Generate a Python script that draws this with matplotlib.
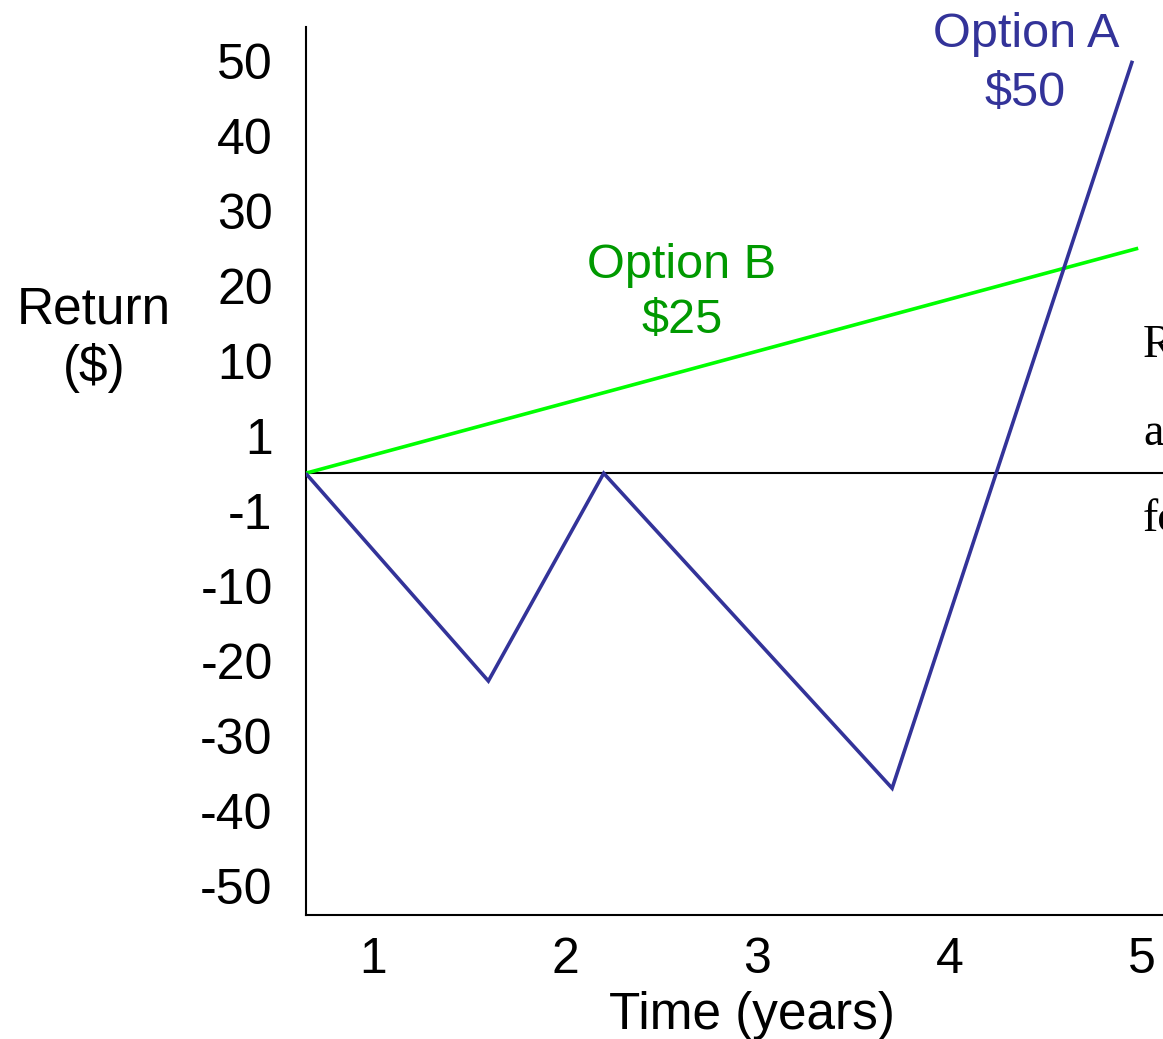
import numpy as np
import matplotlib
matplotlib.use("Agg")
import matplotlib.pyplot as plt

plt.rcParams['font.family'] = ['Liberation Sans', 'DejaVu Sans']

# ---- data ----
years = [1, 2, 3, 4, 5]
year_labels = ["1", "2", "3", "4", "5"]

return_ticks = [50, 40, 30, 20, 10, 1, -1, -10, -20, -30, -40, -50]
return_tick_labels = ["50", "40", "30", "20", "10", "1", "-1",
                      "-10", "-20", "-30", "-40", "-50"]

option_a_time = [0.65, 1.60, 2.20, 3.70, 4.95]
option_a_return = [0, -22.7, 0, -37, 50]

option_b_time = [0.65, 4.98]
option_b_return = [0, 25]

# ---- figure geometry (pixels) ----
W, H = 1163, 1039
DPI = 100


def fx(x):
    return x / W


def fy(y):
    return 1 - y / H


# Piecewise axis: +-1 sits half a step from zero, then 1..10 and
# each further 10 take one step each.
def fwd(v):
    v = np.asarray(v, dtype=float)
    a = np.abs(v)
    p = np.where(a <= 1, 0.5 * a,
                 np.where(a <= 10, 0.5 + (a - 1) / 9, 1.5 + (a - 10) / 10))
    return np.sign(v) * p


def inv(p):
    p = np.asarray(p, dtype=float)
    a = np.abs(p)
    v = np.where(a <= 0.5, 2 * a,
                 np.where(a <= 1.5, 1 + (a - 0.5) * 9, 10 + (a - 1.5) * 10))
    return np.sign(p) * v


fig = plt.figure(figsize=(W / DPI, H / DPI), dpi=DPI)
ax = fig.add_axes([fx(306), fy(915), (W - 306) / W, (915 - 27) / H])

ax.set_yscale('function', functions=(fwd, inv))
ax.set_ylim(-53.9, 54.5)
ax.set_xlim(0.6515, 5.109)

blue = "#333399"
green_line = "#00ff00"
green_text = "#009900"

ax.axhline(0, color="black", lw=1.5, zorder=2)
ax.plot(option_b_time, option_b_return, color=green_line, lw=2.6,
        solid_capstyle="butt", zorder=3)
ax.plot(option_a_time, option_a_return, color=blue, lw=2.6,
        solid_joinstyle="miter", solid_capstyle="butt", zorder=4)

for side in ("top", "right"):
    ax.spines[side].set_visible(False)
for side in ("left", "bottom"):
    ax.spines[side].set_linewidth(1.5)
    ax.spines[side].set_color("black")

ax.set_yticks(return_ticks)
ax.set_yticklabels(return_tick_labels)
ax.set_xticks(years)
ax.set_xticklabels(year_labels)
ax.yaxis.set_minor_locator(plt.NullLocator())
ax.tick_params(axis="y", length=0, pad=24, labelsize=36)
ax.tick_params(axis="x", length=0, pad=16, labelsize=36)

# axis titles
fig.text(fx(752), fy(1029), "Time (years)", ha="center", va="baseline",
         fontsize=37)
fig.text(fx(94), fy(324), "Return", ha="center", va="baseline", fontsize=37)
fig.text(fx(94), fy(382), "($)", ha="center", va="baseline", fontsize=37)

# series labels
fig.text(fx(1026), fy(47), "Option A", ha="center", va="baseline",
         fontsize=35, color=blue)
fig.text(fx(1025), fy(106), f"${option_a_return[-1]:.0f}", ha="center",
         va="baseline", fontsize=35, color=blue)
fig.text(fx(682), fy(278), "Option B", ha="center", va="baseline",
         fontsize=35, color=green_text)
fig.text(fx(682), fy(333), f"${option_b_return[-1]:.0f}", ha="center",
         va="baseline", fontsize=35, color=green_text)

# side note running off the right edge
serif = ['Liberation Serif', 'DejaVu Serif']
for txt, base in (("R", 357), ("a", 445), ("fo", 531)):
    fig.text(fx(1143), fy(base), txt, ha="left", va="baseline",
             fontsize=33, family=serif, color="black")

fig.savefig("out.png", dpi=DPI)
